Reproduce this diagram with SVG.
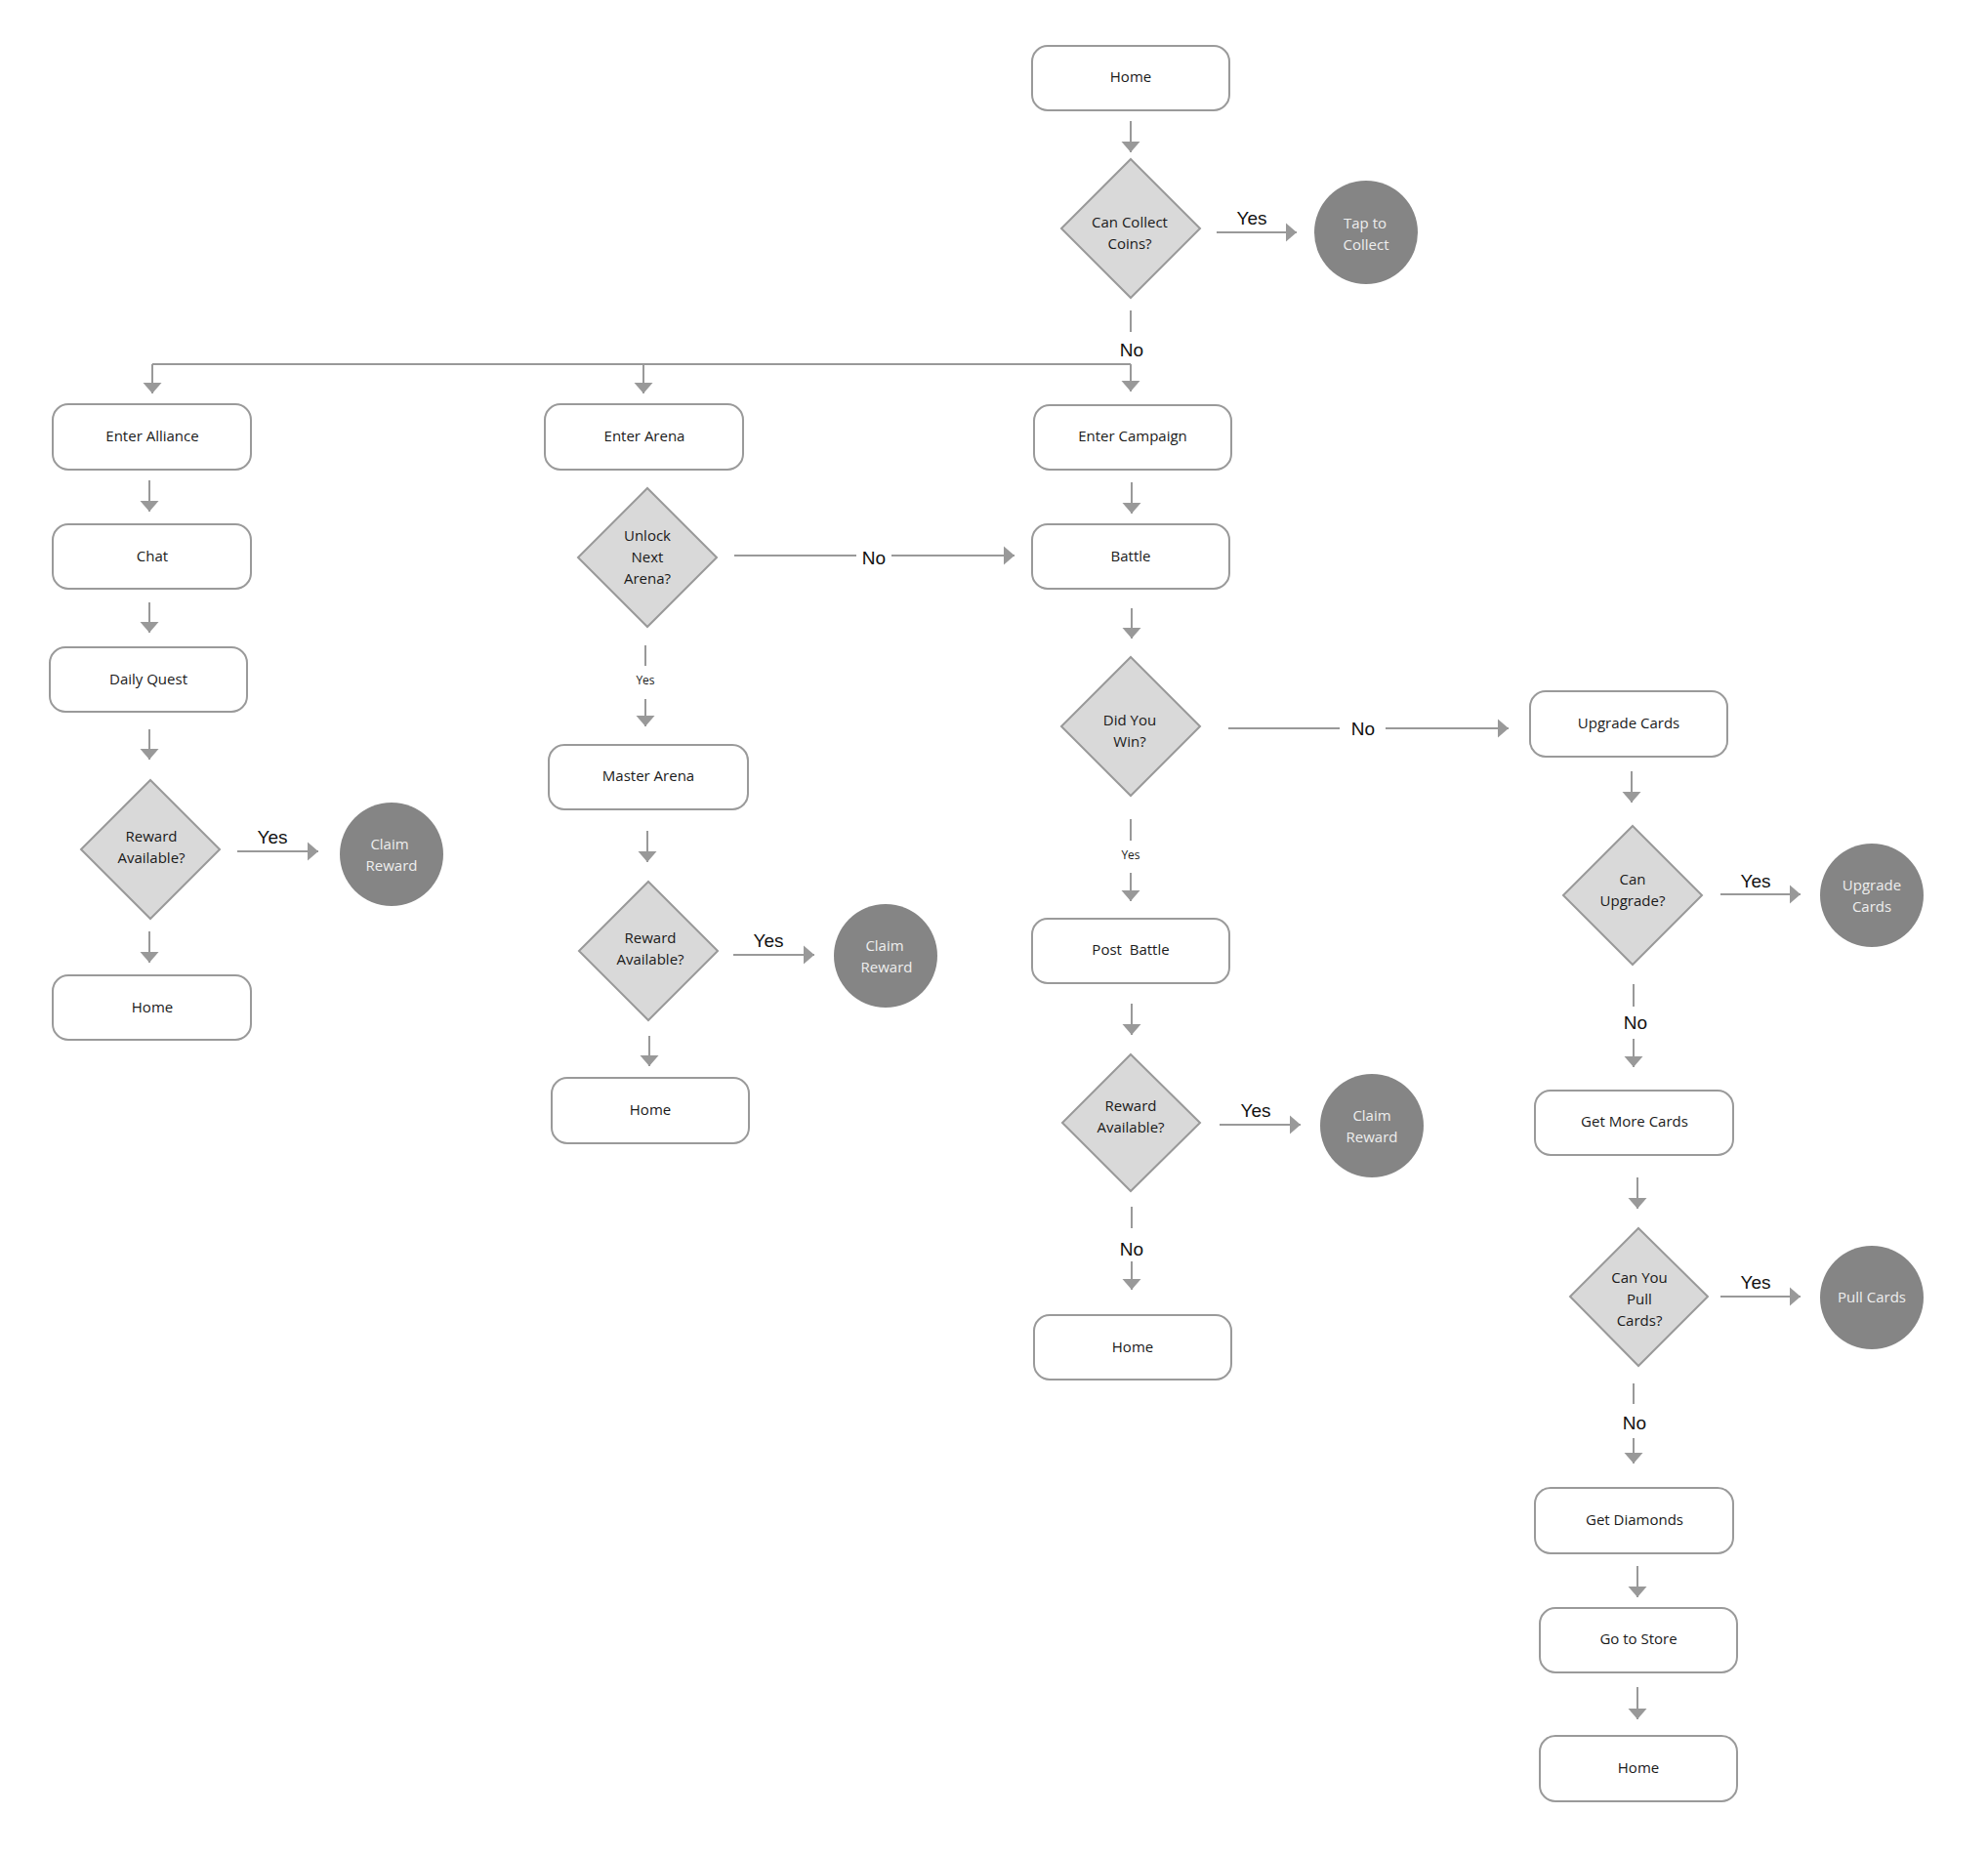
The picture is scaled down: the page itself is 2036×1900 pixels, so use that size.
<svg xmlns="http://www.w3.org/2000/svg" width="2036" height="1900" viewBox="0 0 2036 1900">
<defs>
<marker id="ah" markerUnits="userSpaceOnUse" markerWidth="12" markerHeight="20" refX="11" refY="10" orient="auto">
<path d="M0,0.5 L11,10 L0,19.5 z" fill="#999999"/>
</marker>
<style>
.box{fill:#ffffff;stroke:#9a9a9a;stroke-width:2}
.dia{fill:#d9d9d9;stroke:#999999;stroke-width:2}
.circ{fill:#858585}
.t{font-family:"Open Sans","Noto Sans",sans-serif;font-size:15px;fill:#1a1a1a;text-anchor:middle;white-space:pre}
.ct{font-family:"Open Sans","Noto Sans",sans-serif;font-size:15px;fill:#eeeeee;text-anchor:middle}
.lbl{font-family:"Liberation Sans",Arial,sans-serif;font-size:19px;fill:#111111;text-anchor:middle}
.sl{font-family:"Open Sans","Noto Sans",sans-serif;font-size:12px;fill:#1a1a1a;text-anchor:middle}
.c{stroke:#999999;stroke-width:2;fill:none}
.a{stroke:#999999;stroke-width:2;fill:none;marker-end:url(#ah)}
</style>
</defs>
<rect width="2036" height="1900" fill="#ffffff"/>

<g id="connectors">
<line class="a" x1="1158" y1="124" x2="1158" y2="156"/>
<line class="a" x1="1246" y1="238" x2="1328" y2="238"/>
<text class="lbl" x="1282" y="230">Yes</text>
<line class="c" x1="1158" y1="318" x2="1158" y2="340"/>
<text class="lbl" x="1159" y="365">No</text>
<path class="c" d="M156,373 H1158"/>
<line class="a" x1="156" y1="373" x2="156" y2="403"/>
<line class="a" x1="659" y1="373" x2="659" y2="403"/>
<line class="a" x1="1158" y1="373" x2="1158" y2="401"/>

<line class="a" x1="153" y1="492" x2="153" y2="524"/>
<line class="a" x1="153" y1="617" x2="153" y2="648"/>
<line class="a" x1="153" y1="747" x2="153" y2="778"/>
<line class="a" x1="243" y1="872" x2="326" y2="872"/>
<text class="lbl" x="279" y="864">Yes</text>
<line class="a" x1="153" y1="954" x2="153" y2="986"/>

<line class="c" x1="752" y1="569" x2="877" y2="569"/>
<text class="lbl" x="895" y="578">No</text>
<line class="a" x1="913" y1="569" x2="1039" y2="569"/>
<line class="c" x1="661" y1="661" x2="661" y2="682"/>
<text class="sl" x="661" y="701">Yes</text>
<line class="a" x1="661" y1="716" x2="661" y2="744"/>
<line class="a" x1="663" y1="851" x2="663" y2="883"/>
<line class="a" x1="751" y1="978" x2="834" y2="978"/>
<text class="lbl" x="787" y="970">Yes</text>
<line class="a" x1="665" y1="1061" x2="665" y2="1092"/>

<line class="a" x1="1159" y1="494" x2="1159" y2="526"/>
<line class="a" x1="1159" y1="623" x2="1159" y2="654"/>
<line class="c" x1="1258" y1="746" x2="1372" y2="746"/>
<text class="lbl" x="1396" y="753">No</text>
<line class="a" x1="1419" y1="746" x2="1545" y2="746"/>
<line class="c" x1="1158" y1="839" x2="1158" y2="861"/>
<text class="sl" x="1158" y="880">Yes</text>
<line class="a" x1="1158" y1="894" x2="1158" y2="923"/>
<line class="a" x1="1159" y1="1028" x2="1159" y2="1060"/>
<line class="a" x1="1249" y1="1152" x2="1332" y2="1152"/>
<text class="lbl" x="1286" y="1144">Yes</text>
<line class="c" x1="1159" y1="1236" x2="1159" y2="1258"/>
<text class="lbl" x="1159" y="1286">No</text>
<line class="a" x1="1159" y1="1292" x2="1159" y2="1321"/>

<line class="a" x1="1671" y1="790" x2="1671" y2="822"/>
<line class="a" x1="1762" y1="916" x2="1844" y2="916"/>
<text class="lbl" x="1798" y="909">Yes</text>
<line class="c" x1="1673" y1="1008" x2="1673" y2="1031"/>
<text class="lbl" x="1675" y="1054">No</text>
<line class="a" x1="1673" y1="1064" x2="1673" y2="1093"/>
<line class="a" x1="1677" y1="1206" x2="1677" y2="1238"/>
<line class="a" x1="1762" y1="1328" x2="1844" y2="1328"/>
<text class="lbl" x="1798" y="1320">Yes</text>
<line class="c" x1="1673" y1="1417" x2="1673" y2="1438"/>
<text class="lbl" x="1674" y="1464">No</text>
<line class="a" x1="1673" y1="1473" x2="1673" y2="1499"/>
<line class="a" x1="1677" y1="1604" x2="1677" y2="1636"/>
<line class="a" x1="1677" y1="1728" x2="1677" y2="1761"/>
</g>

<g id="home-top"><rect class="box" x="1057" y="47" width="202" height="66" rx="16"/><text class="t" x="1158" y="84">Home</text></g>
<g id="can-collect"><polygon class="dia" points="1158,163 1229,234 1158,305 1087,234"/><text class="t" x="1157" y="233">Can Collect</text><text class="t" x="1157" y="255">Coins?</text></g>
<g id="tap-collect"><circle class="circ" cx="1399" cy="238" r="53"/><text class="ct" x="1398" y="234">Tap to</text><text class="ct" x="1399" y="256">Collect</text></g>

<g id="enter-alliance"><rect class="box" x="54" y="414" width="203" height="67" rx="16"/><text class="t" x="156" y="452">Enter Alliance</text></g>
<g id="chat"><rect class="box" x="54" y="537" width="203" height="66" rx="16"/><text class="t" x="156" y="575">Chat</text></g>
<g id="daily-quest"><rect class="box" x="51" y="663" width="202" height="66" rx="16"/><text class="t" x="152" y="701">Daily Quest</text></g>
<g id="reward-alliance"><polygon class="dia" points="154,799 225,870 154,941 83,870"/><text class="t" x="155" y="862">Reward</text><text class="t" x="155" y="884">Available?</text></g>
<g id="claim-alliance"><circle class="circ" cx="401" cy="875" r="53"/><text class="ct" x="399" y="870">Claim</text><text class="ct" x="401" y="892">Reward</text></g>
<g id="home-alliance"><rect class="box" x="54" y="999" width="203" height="66" rx="16"/><text class="t" x="156" y="1037">Home</text></g>

<g id="enter-arena"><rect class="box" x="558" y="414" width="203" height="67" rx="16"/><text class="t" x="660" y="452">Enter Arena</text></g>
<g id="unlock-arena"><polygon class="dia" points="663,500 734,571 663,642 592,571"/><text class="t" x="663" y="554">Unlock</text><text class="t" x="663" y="576">Next</text><text class="t" x="663" y="598">Arena?</text></g>
<g id="master-arena"><rect class="box" x="562" y="763" width="204" height="66" rx="16"/><text class="t" x="664" y="800">Master Arena</text></g>
<g id="reward-arena"><polygon class="dia" points="664,903 735,974 664,1045 593,974"/><text class="t" x="666" y="966">Reward</text><text class="t" x="666" y="988">Available?</text></g>
<g id="claim-arena"><circle class="circ" cx="907" cy="979" r="53"/><text class="ct" x="906" y="974">Claim</text><text class="ct" x="908" y="996">Reward</text></g>
<g id="home-arena"><rect class="box" x="565" y="1104" width="202" height="67" rx="16"/><text class="t" x="666" y="1142">Home</text></g>

<g id="enter-campaign"><rect class="box" x="1059" y="415" width="202" height="66" rx="16"/><text class="t" x="1160" y="452">Enter Campaign</text></g>
<g id="battle"><rect class="box" x="1057" y="537" width="202" height="66" rx="16"/><text class="t" x="1158" y="575">Battle</text></g>
<g id="did-you-win"><polygon class="dia" points="1158,673 1229,744 1158,815 1087,744"/><text class="t" x="1157" y="743">Did You</text><text class="t" x="1157" y="765">Win?</text></g>
<g id="post-battle"><rect class="box" x="1057" y="941" width="202" height="66" rx="16"/><text class="t" x="1158" y="978">Post  Battle</text></g>
<g id="reward-campaign"><polygon class="dia" points="1158,1080 1229,1150 1158,1220 1088,1150"/><text class="t" x="1158" y="1138">Reward</text><text class="t" x="1158" y="1160">Available?</text></g>
<g id="claim-campaign"><circle class="circ" cx="1405" cy="1153" r="53"/><text class="ct" x="1405" y="1148">Claim</text><text class="ct" x="1405" y="1170">Reward</text></g>
<g id="home-campaign"><rect class="box" x="1059" y="1347" width="202" height="66" rx="16"/><text class="t" x="1160" y="1385">Home</text></g>

<g id="upgrade-cards"><rect class="box" x="1567" y="708" width="202" height="67" rx="16"/><text class="t" x="1668" y="746">Upgrade Cards</text></g>
<g id="can-upgrade"><polygon class="dia" points="1672,846 1743,917 1672,988 1601,917"/><text class="t" x="1672" y="906">Can</text><text class="t" x="1672" y="928">Upgrade?</text></g>
<g id="upgrade-circle"><circle class="circ" cx="1917" cy="917" r="53"/><text class="ct" x="1917" y="912">Upgrade</text><text class="ct" x="1917" y="934">Cards</text></g>
<g id="get-more-cards"><rect class="box" x="1572" y="1117" width="203" height="66" rx="16"/><text class="t" x="1674" y="1154">Get More Cards</text></g>
<g id="can-pull"><polygon class="dia" points="1678,1258 1749,1328 1678,1399 1608,1328"/><text class="t" x="1679" y="1314">Can You</text><text class="t" x="1679" y="1336">Pull</text><text class="t" x="1679" y="1358">Cards?</text></g>
<g id="pull-cards"><circle class="circ" cx="1917" cy="1329" r="53"/><text class="ct" x="1917" y="1334">Pull Cards</text></g>
<g id="get-diamonds"><rect class="box" x="1572" y="1524" width="203" height="67" rx="16"/><text class="t" x="1674" y="1562">Get Diamonds</text></g>
<g id="go-to-store"><rect class="box" x="1577" y="1647" width="202" height="66" rx="16"/><text class="t" x="1678" y="1684">Go to Store</text></g>
<g id="home-store"><rect class="box" x="1577" y="1778" width="202" height="67" rx="16"/><text class="t" x="1678" y="1816">Home</text></g>
</svg>
